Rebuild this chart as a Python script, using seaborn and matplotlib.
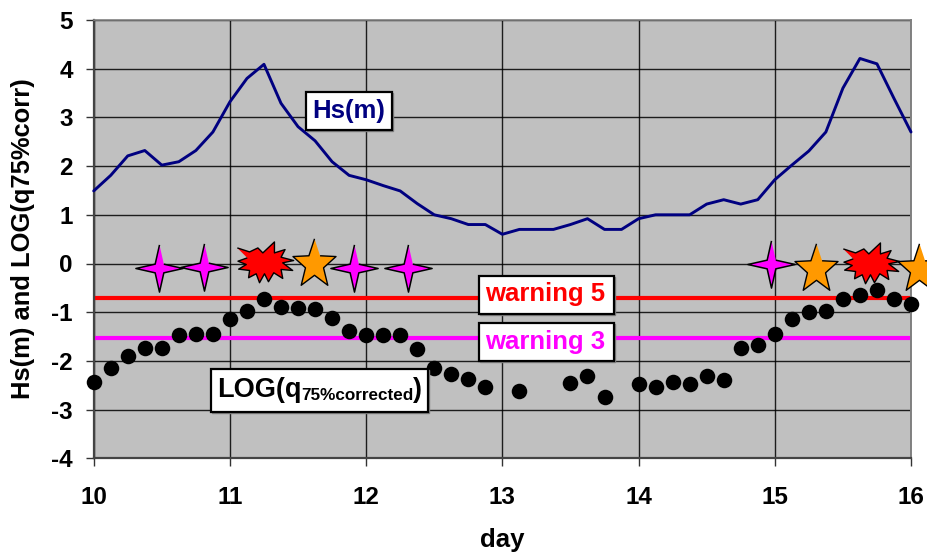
import numpy as np
import pandas as pd
import matplotlib
matplotlib.use("Agg")
import matplotlib.pyplot as plt
from matplotlib.markers import MarkerStyle
from matplotlib.patches import Rectangle
import seaborn as sns

days = [10 + k / 8 for k in range(49)]
hs = [1.49, 1.81, 2.21, 2.32, 2.02, 2.09, 2.32, 2.70, 3.32, 3.80, 4.09, 3.29, 2.81, 2.52, 2.09, 1.81,
      1.72, 1.60, 1.49, 1.23, 1.00, 0.92, 0.80, 0.80, 0.60, 0.70, 0.70, 0.70, 0.80, 0.92, 0.70, 0.70,
      0.92, 1.00, 1.00, 1.00, 1.22, 1.31, 1.22, 1.31, 1.72, 2.02, 2.31, 2.70, 3.60, 4.21, 4.10, 3.39, 2.70]
logq = [-2.43, -2.15, -1.90, -1.74, -1.74, -1.47, -1.44, -1.44, -1.13, -0.98, -0.73, -0.89, -0.92, -0.93,
        -1.11, -1.39, -1.47, -1.47, -1.47, -1.76, -2.15, -2.26, -2.37, -2.54, None, -2.61, None, None,
        -2.45, -2.31, -2.75, None, -2.48, -2.54, -2.43, -2.48, -2.31, -2.40, -1.74, -1.68, -1.44, -1.14,
        -1.00, -0.97, -0.73, -0.64, -0.55, -0.73, -0.83]
warning5 = -0.71
warning3 = -1.53
w3_days = [10.48, 10.81, 11.91, 12.31, 14.97]
w3_vals = [-0.10, -0.07, -0.09, -0.10, 0.0]
w4_days = [11.62, 15.30, 16.06]
w4_vals = [0.0, -0.12, -0.12]
w5_days = [11.25, 15.70]
w5_vals = [0.0, -0.03]
yticks = [5, 4, 3, 2, 1, 0, -1, -2, -3, -4]
xticks = [10, 11, 12, 13, 14, 15, 16]

W, H = 928, 553
sns.set_theme(style="white", rc={"font.family": ["Liberation Sans", "DejaVu Sans"], "font.weight": "bold",
                                 "axes.unicode_minus": False})
fig = plt.figure(figsize=(W / 100, H / 100), dpi=100)
ax = fig.add_axes([93.7 / W, 1 - 458.3 / H, (911 - 93.7) / W, (458.3 - 20) / H])
ax.set_facecolor("#C0C0C0")

df = pd.DataFrame({"day": days, "hs": hs, "logq": logq})
ax.set_xlim(10, 16)
ax.set_ylim(-4, 5)
ax.set_axisbelow(True)
ax.grid(True, color="#000000", lw=1.0, alpha=0.85)

ax.axhline(warning5, color="#FF0000", lw=3, zorder=2.2)
ax.axhline(warning3, color="#FF00FF", lw=3, zorder=2.2)
sns.lineplot(data=df, x="day", y="hs", color="#000080", lw=2.1, ax=ax, zorder=3, clip_on=False)
sns.scatterplot(data=df.dropna(), x="day", y="logq", color="black", s=125, linewidth=0, ax=ax, zorder=3,
                clip_on=False)


def spiky(sx, sy, radii, phase):
    a = np.linspace(0, 2 * np.pi, len(radii), endpoint=False) + phase
    r = np.array(radii)
    return np.c_[sx * r * np.cos(a), sy * r * np.sin(a)]


four = MarkerStyle(spiky(1, 1, [1, 0.26] * 4, np.pi / 2), joinstyle="miter")
five = MarkerStyle(spiky(0.88, 1, [1, 0.42] * 5, np.pi / 2), joinstyle="miter")
burst_outline = np.array([
    (-82, 50), (-45, 38), (-20, 50), (-5, 35), (30, 68), (30, 35), (62, 45), (50, 22), (88, 12), (55, 5),
    (85, -18), (50, -15), (55, -42), (28, -25), (12, -52), (0, -28), (-15, -55), (-25, -28), (-48, -40),
    (-45, -18), (-78, -14), (-55, 0), (-80, 10), (-52, 20)], dtype=float)
burst = MarkerStyle(burst_outline, joinstyle="miter")

ax.plot(w3_days, w3_vals, ls="", marker=four, ms=34, mfc="#FF00FF", mec="black", mew=1.1, zorder=4, clip_on=False)
ax.plot(w4_days, w4_vals, ls="", marker=five, ms=37, mfc="#FF9900", mec="black", mew=1.0, zorder=4, clip_on=False)
ax.plot(w5_days, w5_vals, ls="", marker=burst, ms=42, mfc="#FF0000", mec="black", mew=1.0, zorder=4, clip_on=False)

ax.set_xticks(xticks)
ax.set_yticks(yticks)
ax.tick_params(axis="both", which="major", length=6, width=1, color="#333333", labelsize=17.5, labelcolor="black",
               left=True, bottom=True)
ax.tick_params(axis="x", pad=14)
ax.tick_params(axis="y", pad=9)
for lab in ax.get_xticklabels() + ax.get_yticklabels():
    lab.set_fontweight("bold")
ax.set_xlabel("")
ax.set_ylabel("")
for side, col, lw in (("left", "#444444", 1.6), ("bottom", "#444444", 1.6), ("top", "#808080", 1.2),
                      ("right", "#808080", 1.4)):
    ax.spines[side].set_visible(True)
    ax.spines[side].set_color(col)
    ax.spines[side].set_linewidth(lw)

fig.text(502 / W, 1 - 540 / H, "day", fontsize=18.5, fontweight="bold", ha="center", va="center", color="black")
fig.text(23 / W, 1 - 239 / H, "Hs(m) and LOG(q75%corr)", rotation=90, fontsize=18.4, fontweight="bold",
         ha="center", va="center", color="black")


def box(x0, y0, x1, y1):
    for dx, fc, ec, lw, z in ((1, "#808080", "#808080", 1, 5), (0, "white", "black", 1.6, 5.1)):
        fig.add_artist(Rectangle(((x0 + dx) / W, 1 - (y1 + dx) / H), (x1 - x0) / W, (y1 - y0) / H, fc=fc, ec=ec,
                                 lw=lw, transform=fig.transFigure, zorder=z))


def label(x, y, s, color, size, ha="center"):
    fig.text(x / W, 1 - y / H, s, color=color, fontsize=size, fontweight="bold", ha=ha, va="center", zorder=6)


box(306, 92, 392.5, 130)
label(349, 111, "Hs(m)", "#000080", 18.5)
box(479, 276, 614, 314)
label(545.5, 294, "warning 5", "#FF0000", 18.5)
box(479, 323, 614, 361)
label(545.5, 342, "warning 3", "#FF00FF", 18.5)
box(211, 368.5, 428, 411.5)
label(217, 390, "LOG(q", "black", 19.5, ha="left")
label(301.5, 396, "75%corrected", "black", 12.3, ha="left")
label(413, 390, ")", "black", 19.5, ha="left")

fig.savefig("out.png", dpi=100, facecolor="white")
